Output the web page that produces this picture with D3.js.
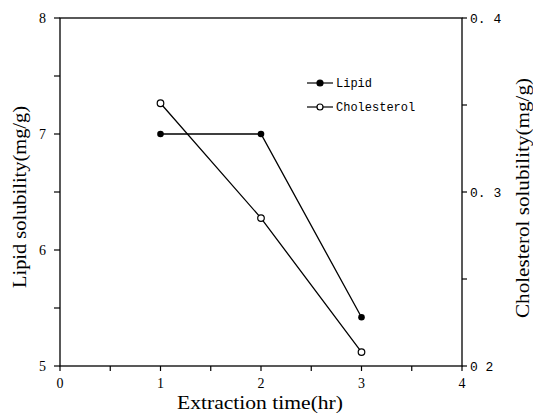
<!DOCTYPE html>
<html>
<head>
<meta charset="utf-8">
<script src="https://cdn.jsdelivr.net/npm/d3@7"></script>
<style>
  body { margin: 0; background: #fff; }
  text { font-family: "Liberation Serif", "Times New Roman", serif; fill: #000; }
  .mono { font-family: "Liberation Mono", "DejaVu Sans Mono", monospace; }
</style>
</head>
<body>
<svg id="chart" width="533" height="417"></svg>
<script>
// data
const times = [1, 2, 3];
const lipid = [7.0, 7.0, 5.42];
const cholesterol = [0.351, 0.285, 0.208];
const xTicks = [0, 1, 2, 3, 4];
const leftTicks = [5, 6, 7, 8];
const rightTicks = [0.2, 0.3, 0.4];
const rightTickLabels = ["0 2", "0. 3", "0. 4"];

const svg = d3.select("#chart");
const m = {left: 60, top: 18, right: 462, bottom: 366};

const x = d3.scaleLinear().domain([0, 4]).range([m.left, m.right]);
const yL = d3.scaleLinear().domain([5, 8]).range([m.bottom, m.top]);
const yR = d3.scaleLinear().domain([0.2, 0.4]).range([m.bottom, m.top]);

// frame
svg.append("rect")
  .attr("x", m.left).attr("y", m.top)
  .attr("width", m.right - m.left).attr("height", m.bottom - m.top)
  .attr("fill", "none").attr("stroke", "#000").attr("stroke-width", 1.3);

const tickLine = (g, x1, y1, x2, y2) => g.append("line")
  .attr("x1", x1).attr("y1", y1).attr("x2", x2).attr("y2", y2)
  .attr("stroke", "#000").attr("stroke-width", 1.2);

const ticks = svg.append("g");
// left axis: major + minor ticks
d3.range(5, 8.01, 0.5).forEach(v => tickLine(ticks, m.left - 6, yL(v), m.left, yL(v)));
leftTicks.forEach(v => {
  svg.append("text").attr("x", 46).attr("y", yL(v) + 5)
    .attr("text-anchor", "end").attr("font-size", 14).text(v);
});
// right axis
d3.range(0.2, 0.401, 0.05).forEach(v => tickLine(ticks, m.right, yR(v), m.right + 5, yR(v)));
rightTicks.forEach((v, i) => {
  svg.append("text").attr("class", "mono").attr("x", 470).attr("y", yR(v) + 5)
    .attr("font-size", 13).text(rightTickLabels[i]);
});
// bottom axis
d3.range(0, 4.01, 0.5).forEach(v => tickLine(ticks, x(v), m.bottom, x(v), m.bottom + 5));
xTicks.forEach(v => {
  svg.append("text").attr("x", x(v)).attr("y", 388)
    .attr("text-anchor", "middle").attr("font-size", 14).text(v);
});

// axis titles (stretched a bit, the scan uses a wider face)
svg.append("text").attr("x", 260).attr("y", 409)
  .attr("text-anchor", "middle").attr("font-size", 18)
  .attr("textLength", 166).attr("lengthAdjust", "spacingAndGlyphs")
  .text("Extraction time(hr)");
svg.append("text").attr("transform", "translate(26,197) rotate(-90)")
  .attr("text-anchor", "middle").attr("font-size", 19)
  .attr("textLength", 182).attr("lengthAdjust", "spacingAndGlyphs")
  .text("Lipid solubility(mg/g)");
svg.append("text").attr("transform", "translate(529,198) rotate(-90)")
  .attr("text-anchor", "middle").attr("font-size", 19)
  .attr("textLength", 240).attr("lengthAdjust", "spacingAndGlyphs")
  .text("Cholesterol solubility(mg/g)");

// series
const lineL = d3.line().x((d, i) => x(times[i])).y(d => yL(d));
const lineR = d3.line().x((d, i) => x(times[i])).y(d => yR(d));

svg.append("path").datum(lipid).attr("d", lineL)
  .attr("fill", "none").attr("stroke", "#000").attr("stroke-width", 1.3);
svg.append("path").datum(cholesterol).attr("d", lineR)
  .attr("fill", "none").attr("stroke", "#000").attr("stroke-width", 1.3);

svg.selectAll("circle.lip").data(lipid).join("circle").attr("class", "lip")
  .attr("cx", (d, i) => x(times[i])).attr("cy", d => yL(d)).attr("r", 3.3)
  .attr("fill", "#000");
svg.selectAll("circle.chol").data(cholesterol).join("circle").attr("class", "chol")
  .attr("cx", (d, i) => x(times[i])).attr("cy", d => yR(d)).attr("r", 3.3)
  .attr("fill", "#fff").attr("stroke", "#000").attr("stroke-width", 1.2);

// legend
const legend = [
  {name: "Lipid", fill: "#000", y: 83},
  {name: "Cholesterol", fill: "#fff", y: 107}
];
legend.forEach(d => {
  tickLine(svg, 307, d.y, 333, d.y);
  svg.append("circle").attr("cx", 320).attr("cy", d.y).attr("r", 3)
    .attr("fill", d.fill).attr("stroke", "#000").attr("stroke-width", 1.2);
  svg.append("text").attr("class", "mono").attr("x", 336).attr("y", d.y + 4)
    .attr("font-size", 12).text(d.name);
});
</script>
</body>
</html>
